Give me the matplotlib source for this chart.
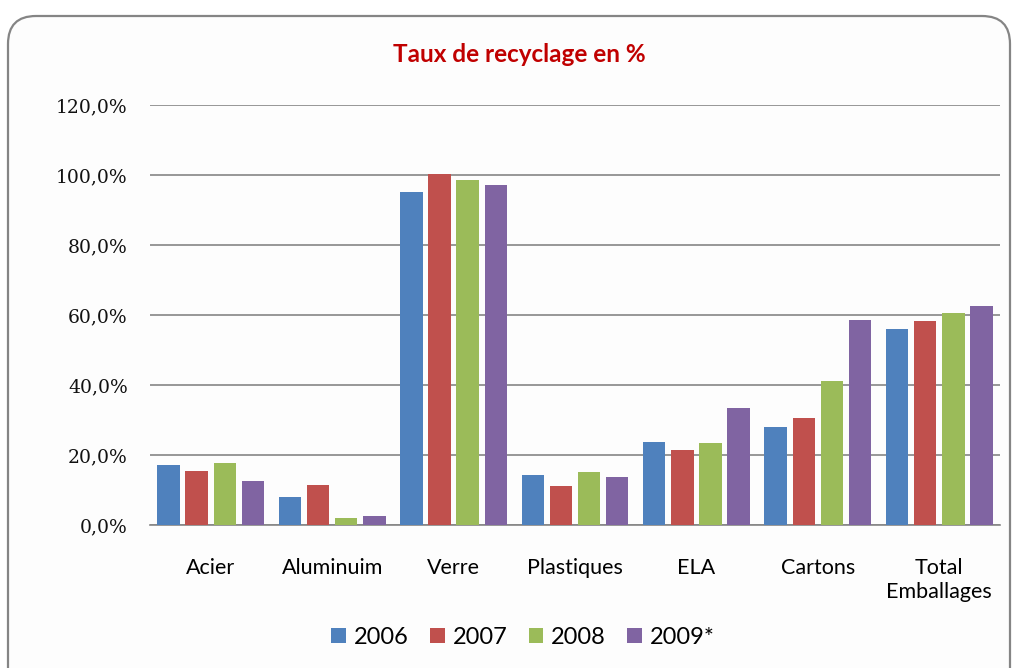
import numpy as np
import matplotlib
matplotlib.use('Agg')
import matplotlib.pyplot as plt
from matplotlib.patches import FancyBboxPatch, Patch
from matplotlib.ticker import FuncFormatter

# data
categories = ['Acier', 'Aluminuim', 'Verre', 'Plastiques', 'ELA', 'Cartons', 'Total\nEmballages']
years = ['2006', '2007', '2008', '2009*']
rate_2006 = [17.2, 8.1, 95.1, 14.3, 23.7, 28.1, 56.1]
rate_2007 = [15.4, 11.5, 100.2, 11.2, 21.4, 30.6, 58.4]
rate_2008 = [17.7, 2.1, 98.5, 15.2, 23.4, 41.2, 60.7]
rate_2009 = [12.6, 2.6, 97.1, 13.7, 33.5, 58.7, 62.7]
series = [rate_2006, rate_2007, rate_2008, rate_2009]
colors = ['#4F81BD', '#C0504D', '#9BBB59', '#8064A2']

sans = ['Lato', 'DejaVu Sans']

fig = plt.figure(figsize=(10.16, 6.68), dpi=100)

# background frame with rounded corner, drawn in pixel coords
bg = fig.add_axes([0, 0, 1, 1], zorder=-1)
bg.set_xlim(0, 1016)
bg.set_ylim(668, 0)
bg.axis('off')
frame = FancyBboxPatch((8, 16), 1002, 700, boxstyle='round,pad=0,rounding_size=28',
                       facecolor='#FDFDFD', edgecolor='#858585', linewidth=1.6)
bg.add_patch(frame)

ax = fig.add_axes([150/1016, 1-525/668, 850/1016, 420/668])
ax.patch.set_alpha(0)

x = np.arange(len(categories))
pitch = 0.232
width = 0.185
for i, (vals, c) in enumerate(zip(series, colors)):
    ax.bar(x + (i - 1.5)*pitch, vals, width=width, color=c, zorder=3, label=years[i])

ax.set_xlim(-0.5, len(categories) - 0.5)
ax.set_ylim(0, 120)
ax.set_yticks(np.arange(0, 121, 20))
ax.yaxis.set_major_formatter(FuncFormatter(lambda v, p: ('%.1f%%' % v).replace('.', ',')))
ax.grid(axis='y', color='#868686', linewidth=1.2, zorder=0)
for s in ['top', 'right', 'left']:
    ax.spines[s].set_visible(False)
ax.spines['bottom'].set_color('#868686')
ax.spines['bottom'].set_linewidth(1.2)
ax.tick_params(axis='y', length=0, pad=16)
ax.tick_params(axis='x', length=0, pad=24)
ax.set_xticks(x)
ax.set_xticklabels(categories, family=sans, fontsize=15.5, linespacing=1.25)
for lab in ax.get_yticklabels():
    lab.set_family('DejaVu Serif')
    lab.set_fontsize(13.5)
    lab.set_color('#111111')

fig.text(519/1016, 1-54/668, 'Taux de recyclage en %', color='#C00000', ha='center', va='center',
         family=sans, fontsize=17.5, fontweight='bold')

handles = [Patch(facecolor=c) for c in colors]
fig.legend(handles, years, loc='center', bbox_to_anchor=(523/1016, 1-637/668), ncol=4, frameon=False,
           prop={'family': sans, 'size': 17}, handlelength=0.62, handleheight=0.6,
           handletextpad=0.34, columnspacing=0.9, borderpad=0)

fig.savefig('out.png', dpi=100)
